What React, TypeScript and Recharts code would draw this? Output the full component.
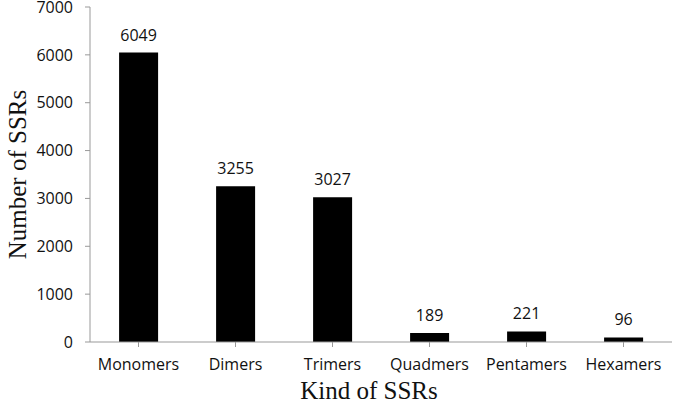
import { BarChart, Bar, XAxis, YAxis, LabelList } from 'recharts';

const kinds = ['Monomers', 'Dimers', 'Trimers', 'Quadmers', 'Pentamers', 'Hexamers'];
const counts = [6049, 3255, 3027, 189, 221, 96];
const yTicks = [0, 1000, 2000, 3000, 4000, 5000, 6000, 7000];

const data = kinds.map((kind, i) => ({ kind, count: counts[i] }));

const sans = '"Open Sans", "DejaVu Sans", sans-serif';
const serif = '"Liberation Serif", "Times New Roman", serif';

export default function App() {
  return (
    <div style={{ position: 'absolute', left: 0, top: 0, width: 675, height: 402, background: '#fff' }}>
      <BarChart
        width={675}
        height={402}
        data={data}
        margin={{ top: 7, right: 3, left: 0, bottom: 0 }}
        barCategoryGap="30%"
      >
        <XAxis
          dataKey="kind"
          height={60}
          stroke="#999"
          tickSize={5}
          tickMargin={12}
          tick={{ fill: '#111', fontSize: 16, fontFamily: sans }}
          label={{
            value: 'Kind of SSRs',
            position: 'insideBottom',
            offset: 3,
            dx: -12,
            fill: '#111',
            fontSize: 25,
            fontFamily: serif,
          }}
        />
        <YAxis
          width={90}
          domain={[0, 7000]}
          ticks={yTicks}
          interval={0}
          stroke="#999"
          tickSize={5}
          tickMargin={12}
          tick={{ fill: '#111', fontSize: 16, fontFamily: sans }}
          label={{
            value: 'Number of SSRs',
            angle: -90,
            position: 'insideLeft',
            offset: 17,
            fill: '#111',
            fontSize: 25,
            fontFamily: serif,
            style: { textAnchor: 'middle' },
          }}
        />
        <Bar dataKey="count" fill="#000" isAnimationActive={false}>
          <LabelList
            dataKey="count"
            position="top"
            offset={12}
            fill="#111"
            fontSize={16}
            fontFamily={sans}
          />
        </Bar>
      </BarChart>
    </div>
  );
}
